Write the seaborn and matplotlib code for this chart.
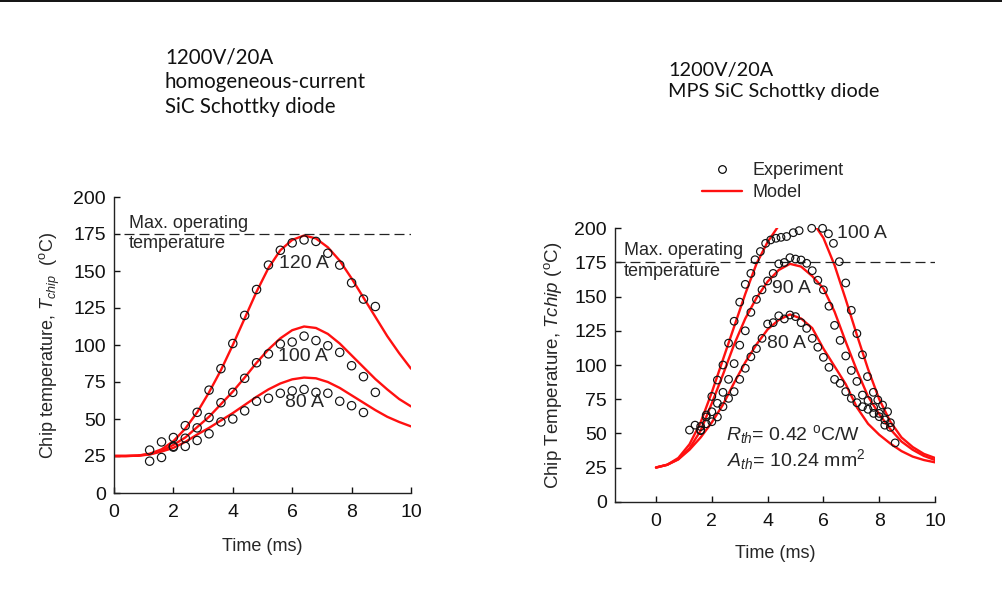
import numpy as np
import pandas as pd
import matplotlib
matplotlib.use("Agg")
import matplotlib.pyplot as plt
import seaborn as sns
from matplotlib.lines import Line2D

sns.set_style("ticks")
plt.rcParams["font.family"] = ["Liberation Sans", "DejaVu Sans"]
plt.rcParams["mathtext.fontset"] = "custom"
plt.rcParams["mathtext.rm"] = "Liberation Sans"
plt.rcParams["mathtext.it"] = "Liberation Sans:italic"
plt.rcParams["mathtext.bf"] = "Liberation Sans:bold"

# ---------------- data: left panel (homogeneous-current diode) ----------------
t_model = [0, 0.4, 0.8, 1.2, 1.6, 2.0, 2.4, 2.8, 3.2, 3.6, 4.0, 4.4, 4.8, 5.2,
           5.6, 6.0, 6.4, 6.8, 7.2, 7.6, 8.0, 8.4, 8.8, 9.2, 9.6, 10.0]
left_m120 = [25, 25, 25.3, 26.5, 29.5, 35, 43.5, 54.5, 68, 83, 100, 118, 136, 152,
             164, 171, 174, 172, 166, 157, 145, 132, 119, 106, 94.5, 84]
left_m100 = [25, 25, 25.2, 26.3, 28.5, 32.5, 37.5, 44.5, 51.5, 60, 68.5, 78, 88, 97,
             104.5, 110, 112.5, 111.5, 107.5, 101, 93, 85, 77, 70, 63.5, 58.5]
left_m80 = [25, 25, 25.2, 26, 28, 30.5, 34.5, 39.5, 44, 49, 54, 59.5, 65, 70,
            74, 76.8, 78, 77.5, 75, 71, 66, 61, 56, 51.5, 48, 45]

left_e120_t = [1.2, 1.6, 2.0, 2.4, 2.8, 3.2, 3.6, 4.0, 4.4, 4.8, 5.2, 5.6, 6.0, 6.4,
               6.8, 7.2, 7.6, 8.0, 8.4, 8.8]
left_e120 = [29, 34.5, 37.5, 45.5, 54.5, 69.5, 84, 101, 120, 137.5, 154, 164, 169, 171,
             170, 162, 154, 142, 131, 126]
left_e100_t = [2.0, 2.4, 2.8, 3.2, 3.6, 4.0, 4.4, 4.8, 5.2, 5.6, 6.0, 6.4, 6.8, 7.2,
               7.6, 8.0, 8.4, 8.8]
left_e100 = [31.5, 37, 44, 51, 61, 68, 77.5, 88, 94, 100.7, 102, 106, 103, 99.5,
             95, 86, 78.6, 68]
left_e80_t = [1.2, 1.6, 2.0, 2.4, 2.8, 3.2, 3.6, 4.0, 4.4, 4.8, 5.2, 5.6, 6.0, 6.4,
              6.8, 7.2, 7.6, 8.0, 8.4]
left_e80 = [21.5, 24, 31, 31.5, 35.5, 40, 48, 50, 55.5, 62, 64, 67.4, 69, 70,
            68, 67.4, 62, 59, 54.4]

# ---------------- data: right panel (MPS diode) ----------------
right_m100 = [25, 27, 32, 42, 58, 80, 104, 128, 152, 174, 190, 202, 209, 210,
              205, 193, 173, 148, 122, 97, 75, 58.5, 47, 40, 35, 32]
right_m90 = [25, 27, 31, 39, 52, 72, 93, 115, 134, 149, 161, 169.5, 174, 172,
             165, 156, 139, 117, 96, 77, 64, 53, 44, 38, 33.5, 30.5]
right_m80 = [25, 27, 31, 38, 47, 58, 71, 87, 102, 115, 126, 133, 137, 134,
             127, 112, 99, 86, 69, 57, 49, 42.5, 37, 33, 30.5, 28.8]

right_e100_t = [1.2, 1.4, 1.6, 1.8, 2.0, 2.2, 2.4, 2.6, 2.8, 3.0, 3.2, 3.4, 3.55, 3.74,
                3.93, 4.11, 4.3, 4.48, 4.68, 4.92, 5.13, 5.58, 5.97, 6.18, 6.36, 6.57,
                6.8, 7.0, 7.2, 7.4, 7.58, 7.79, 7.95, 8.12, 8.3, 8.57]
right_e100 = [52.4, 56, 52.4, 63.4, 77, 89, 100, 116, 132, 146, 159, 167, 177, 183,
              189, 191.5, 192.7, 193.4, 194, 196.8, 198.3, 200, 200, 196, 189, 175.6,
              160, 140, 123, 107.5, 91.5, 80, 74.5, 70.7, 65.8, 43]
right_e90_t = [1.6, 1.8, 2.0, 2.2, 2.4, 2.6, 2.8, 3.0, 3.2, 3.4, 3.6, 3.8, 4.0, 4.2,
               4.4, 4.6, 4.8, 5.0, 5.2, 5.4, 5.6, 5.8, 6.0, 6.2, 6.4, 6.6, 6.8, 7.0,
               7.2, 7.4, 7.6, 7.8, 8.0, 8.2, 8.4]
right_e90 = [55, 62, 65.8, 72, 80, 89.5, 101, 114.5, 125, 138.5, 148, 155, 161.5, 167,
             174, 175, 178.5, 177.5, 176.8, 174.4, 169, 162, 155, 143, 129, 118, 106.6,
             96, 88, 78, 74, 69, 64.6, 59.8, 57.8]
right_e80_t = [1.6, 1.8, 2.0, 2.2, 2.4, 2.6, 2.8, 3.0, 3.2, 3.4, 3.6, 3.8, 4.0, 4.2,
               4.4, 4.6, 4.8, 5.0, 5.2, 5.4, 5.6, 5.8, 6.0, 6.2, 6.4, 6.6, 6.8, 7.0,
               7.2, 7.4, 7.6, 7.8, 8.0, 8.2, 8.4]
right_e80 = [52, 57, 58.5, 62, 69.5, 75.6, 80.5, 89.5, 97.6, 106, 112, 119.5, 130, 131,
             136, 133.7, 136.6, 135.4, 131, 126.8, 119.5, 113, 105.6, 98.3, 89.5, 86.6,
             80.5, 75.6, 72.4, 69.5, 67.6, 64.6, 62.2, 56, 54.4]


def long_df(series):
    rows = []
    for name, (tt, vv) in series.items():
        for a, b in zip(tt, vv):
            rows.append({"t": a, "T": b, "series": name})
    return pd.DataFrame(rows)


left_model = long_df({"120 A": (t_model, left_m120), "100 A": (t_model, left_m100),
                      "80 A": (t_model, left_m80)})
left_exp = long_df({"120 A": (left_e120_t, left_e120), "100 A": (left_e100_t, left_e100),
                    "80 A": (left_e80_t, left_e80)})
right_model = long_df({"100 A": (t_model, right_m100), "90 A": (t_model, right_m90),
                       "80 A": (t_model, right_m80)})
right_exp = long_df({"100 A": (right_e100_t, right_e100), "90 A": (right_e90_t, right_e90),
                     "80 A": (right_e80_t, right_e80)})

RED = "#ff1010"
W, H = 1003, 589
fig = plt.figure(figsize=(W / 100, H / 100), dpi=100)


def px_axes(x0, y0, x1, y1):
    return fig.add_axes([x0 / W, 1 - y1 / H, (x1 - x0) / W, (y1 - y0) / H])


ax1 = px_axes(114, 197, 411, 493)
ax2 = px_axes(615, 228.3, 935, 501.7)

for ax, mdf, edf, ms in [(ax1, left_model, left_exp, 36), (ax2, right_model, right_exp, 30)]:
    sns.lineplot(data=mdf, x="t", y="T", units="series", estimator=None, color=RED,
                 lw=1.7, ax=ax, legend=False, sort=False)
    sns.scatterplot(data=edf, x="t", y="T", marker="o", s=ms, facecolors="none",
                    edgecolors="#111111", linewidths=0.85, ax=ax, legend=False, clip_on=False,
                    zorder=3)
    ax.set_ylim(0, 200)
    ax.set_yticks(np.arange(0, 201, 25))
    ax.set_xticks(np.arange(0, 11, 2))
    sns.despine(ax=ax)
    for s in ["left", "bottom"]:
        ax.spines[s].set_linewidth(1.0)
        ax.spines[s].set_color("#222222")
    ax.tick_params(direction="in", length=4, width=1, labelsize=14, colors="#111111")
    ax.tick_params(axis="y", pad=6)
    ax.tick_params(axis="x", pad=8)

ax1.set_xlabel("Time (ms)", fontsize=13, labelpad=12)
ax2.set_xlabel("Time (ms)", fontsize=13, labelpad=11)
ax1.set_xlim(0, 10)
ax2.set_xlim(-1.47, 10)

# dashed max-temperature lines
ax1.axhline(175, xmin=0.035, xmax=1, color="#222222", lw=0.9, dashes=(8, 4))
ax2.axhline(175, color="#222222", lw=0.9, dashes=(8, 4))

ax1.set_ylabel(r"Chip temperature, $T_{chip}$  ($^{\mathrm{o}}$C)", fontsize=13)
ax1.yaxis.set_label_coords(-0.175, 0.5)
ax2.set_ylabel(r"Chip Temperature, $Tchip$ ($^{\mathrm{o}}$C)", fontsize=13.5)
ax2.yaxis.set_label_coords(-0.16, 0.5)

# annotations left
ax1.text(0.5, 175.5, "Max. operating\ntemperature", fontsize=13, ha="left", va="center",
         linespacing=1.25)
ax1.text(6.41, 155, "120 A", fontsize=14, ha="center", va="center")
ax1.text(6.35, 92, "100 A", fontsize=14, ha="center", va="center")
ax1.text(6.4, 61, "80 A", fontsize=14, ha="center", va="center")

# annotations right
ax2.text(-1.15, 176, "Max. operating\ntemperature", fontsize=13, ha="left", va="center",
         linespacing=1.25)
ax2.text(7.37, 196, "100 A", fontsize=14, ha="center", va="center")
ax2.text(4.86, 156, "90 A", fontsize=14, ha="center", va="center")
ax2.text(4.66, 116, "80 A", fontsize=14, ha="center", va="center")
ax2.text(2.51, 49.5, r"$R_{th}$= 0.42 $^{\mathrm{o}}$C/W", fontsize=14, ha="left", va="center")
ax2.text(2.56, 30.5, r"$A_{th}$= 10.24 mm$^{2}$", fontsize=14, ha="left", va="center")

# legend
handles = [Line2D([], [], marker="o", ls="none", mfc="none", mec="black", ms=5.5, mew=0.85),
           Line2D([], [], color=RED, lw=1.7)]
fig.legend(handles, ["Experiment", "Model"], loc="upper left",
           bbox_to_anchor=(702 / W, 1 - 162 / H), frameon=False, fontsize=13,
           handlelength=2.2, handletextpad=0.6, labelspacing=0.3, borderpad=0,
           borderaxespad=0)

# panel titles
fig.text(165 / W, 1 - 47 / H, "1200V/20A\nhomogeneous-current\nSiC Schottky diode",
         fontsize=14.8, family=["Lato", "DejaVu Sans"], ha="left", va="top", linespacing=1.3,
         color="#111111")
fig.text(668 / W, 1 - 62 / H, "1200V/20A\nMPS SiC Schottky diode",
         fontsize=14.3, family=["Lato", "DejaVu Sans"], ha="left", va="top", linespacing=1.3,
         color="#111111")

# thin border line along the top of the image
fig.add_artist(Line2D([0, 1], [1 - 0.8 / H, 1 - 0.8 / H], transform=fig.transFigure,
                      color="#111111", lw=1.4))

fig.savefig("out.png", dpi=100)
